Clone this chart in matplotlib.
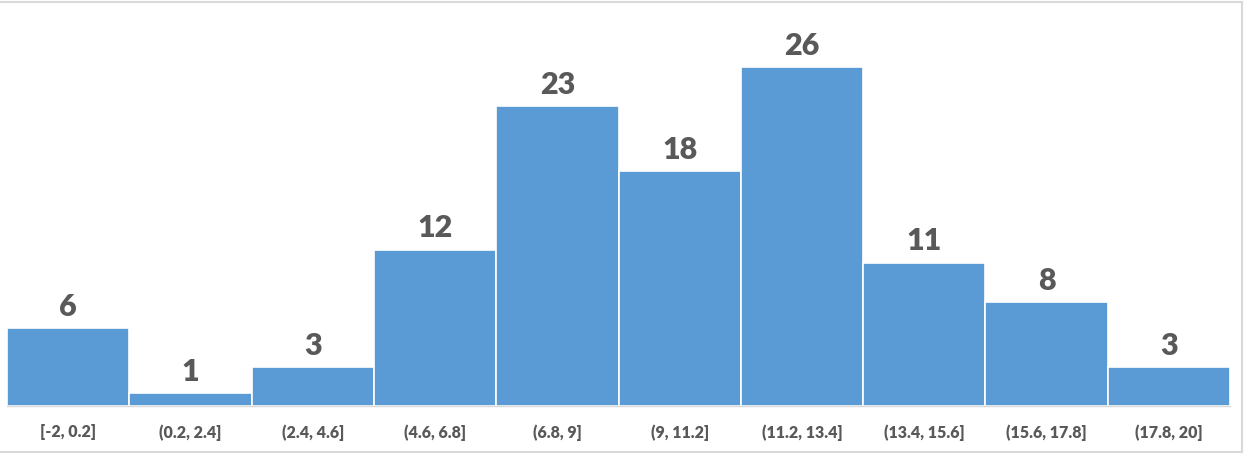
import matplotlib.pyplot as plt

# histogram bins and counts
edges = [-2, 0.2, 2.4, 4.6, 6.8, 9, 11.2, 13.4, 15.6, 17.8, 20]
counts = [6, 1, 3, 12, 23, 18, 26, 11, 8, 3]
labels = ['[-2, 0.2]', '(0.2, 2.4]', '(2.4, 4.6]', '(4.6, 6.8]', '(6.8, 9]',
          '(9, 11.2]', '(11.2, 13.4]', '(13.4, 15.6]', '(15.6, 17.8]', '(17.8, 20]']

plt.rcParams['font.family'] = ['Lato', 'DejaVu Sans']

W, H = 1244, 454
fig = plt.figure(figsize=(W / 100, H / 100), dpi=100)
ax = fig.add_axes([7 / W, 48 / H, 1223 / W, 391 / H])

lefts = edges[:-1]
widths = [edges[i + 1] - edges[i] for i in range(len(counts))]
bars = ax.bar(lefts, counts, width=widths, align='edge', color='#5B9BD5',
              edgecolor='white', linewidth=1.2)

for b, c in zip(bars, counts):
    ax.text(b.get_x() + b.get_width() / 2, c + 0.55, str(c), ha='center', va='bottom',
            fontsize=22, fontweight='heavy', color='#595959')

centers = [l + w / 2 for l, w in zip(lefts, widths)]
ax.set_xticks(centers)
ax.set_xticklabels(labels, fontsize=11.5, fontweight='heavy', color='#595959')
ax.tick_params(axis='x', length=0, pad=13)
ax.set_yticks([])
ax.set_xlim(edges[0], edges[-1])
ax.set_ylim(0, 30)

for s in ['top', 'right', 'left']:
    ax.spines[s].set_visible(False)
ax.spines['bottom'].set_color('#D9D9D9')
ax.spines['bottom'].set_linewidth(1)

# light frame lines (top, bottom, right) around the chart
frame = dict(transform=fig.transFigure, color='#D9D9D9', linewidth=1.5)
fig.add_artist(plt.Line2D([0, 0.998], [0.995, 0.995], **frame))
fig.add_artist(plt.Line2D([0, 0.998], [0.004, 0.004], **frame))
fig.add_artist(plt.Line2D([0.998, 0.998], [0.004, 0.995], **frame))

fig.savefig('out.png', dpi=100)
